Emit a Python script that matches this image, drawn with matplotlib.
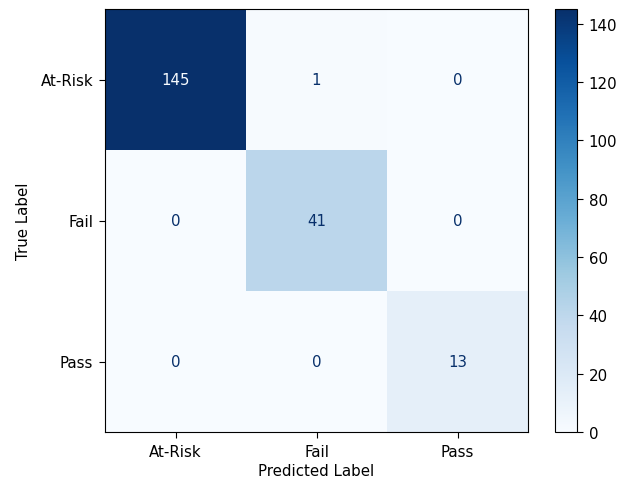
import numpy as np
import matplotlib
matplotlib.use("Agg")
import matplotlib.pyplot as plt

# Class names and confusion-matrix counts (rows: true, cols: predicted)
labels = ["At-Risk", "Fail", "Pass"]
counts = np.array([
    [145, 1, 0],
    [0, 41, 0],
    [0, 0, 13],
])

plt.rcParams["font.size"] = 10.8

fig = plt.figure(figsize=(6.28, 4.81), dpi=100)
ax = fig.add_axes([105 / 628, 48 / 481, 423 / 628, 423 / 481])
cax = fig.add_axes([555 / 628, 48 / 481, 22 / 628, 423 / 481])

cmap = plt.get_cmap("Blues")
im = ax.imshow(counts, cmap=cmap, interpolation="nearest")
fig.colorbar(im, cax=cax)
cax.tick_params(length=4.5, pad=4)

vmin, vmax = counts.min(), counts.max()
thresh = (vmax + vmin) / 2.0
for i in range(counts.shape[0]):
    for j in range(counts.shape[1]):
        color = cmap(0.0) if counts[i, j] >= thresh else cmap(1.0)
        ax.text(j, i, format(counts[i, j], "d"), ha="center", va="center", color=color)

ax.set_xticks(range(len(labels)))
ax.set_xticklabels(labels)
ax.set_yticks(range(len(labels)))
ax.set_yticklabels(labels)
ax.tick_params(length=4.5, pad=4)
ax.set_xlabel("Predicted Label", labelpad=3)
ax.set_ylabel("True Label", labelpad=7)

fig.savefig("out.png", dpi=100)
